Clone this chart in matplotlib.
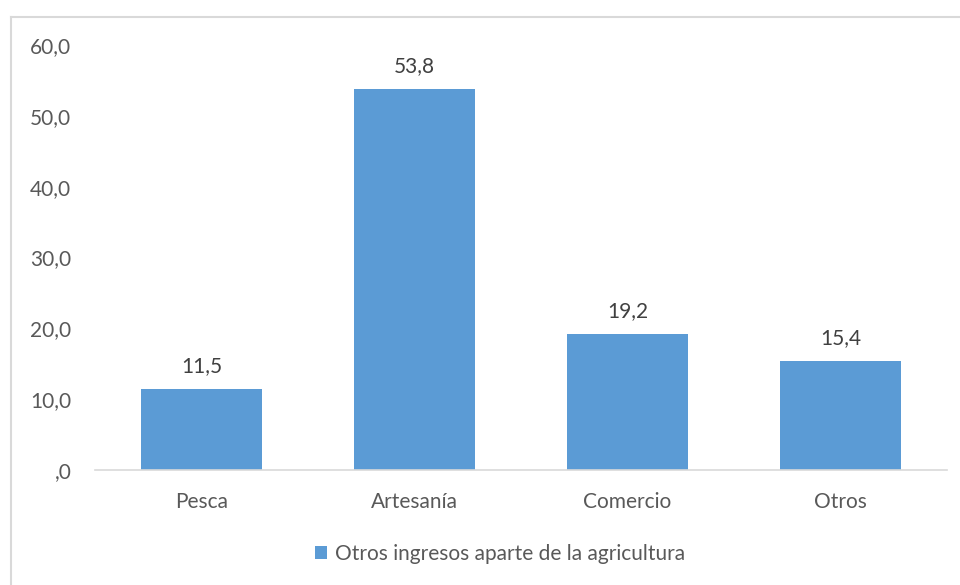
import matplotlib
matplotlib.use("Agg")
import matplotlib.pyplot as plt
from matplotlib.patches import Patch
from matplotlib.lines import Line2D

categories = ["Pesca", "Artesanía", "Comercio", "Otros"]
values = [11.5, 53.8, 19.2, 15.4]
yticks = [0, 10, 20, 30, 40, 50, 60]
ytick_labels = [",0", "10,0", "20,0", "30,0", "40,0", "50,0", "60,0"]
value_labels = ["11,5", "53,8", "19,2", "15,4"]
series_name = "Otros ingresos aparte de la agricultura"

plt.rcParams['font.family'] = ['Lato', 'DejaVu Sans']
text_color = "#595959"
bar_color = "#5B9BD5"
fs = 15

fig = plt.figure(figsize=(9.6, 5.85), dpi=100)
ax = fig.add_axes([95/960, 1-470/585, (947-95)/960, (470-45)/585])

x = range(len(categories))
bars = ax.bar(x, values, width=0.57, color=bar_color, zorder=2)
for b, lab in zip(bars, value_labels):
    ax.annotate(lab, (b.get_x()+b.get_width()/2, b.get_height()),
                xytext=(0, 9), textcoords="offset points",
                ha="center", va="bottom", fontsize=fs, color="#404040")

ax.set_xlim(-0.5, 3.5)
ax.set_ylim(0, 60)
ax.set_yticks(yticks)
ax.set_yticklabels(ytick_labels)
ax.set_xticks(list(x))
ax.set_xticklabels(categories)
ax.tick_params(axis='y', length=0, pad=17, labelsize=fs, labelcolor=text_color)
ax.tick_params(axis='x', length=0, pad=16, labelsize=fs, labelcolor=text_color)
for s in ["top", "right", "left"]:
    ax.spines[s].set_visible(False)
ax.spines["bottom"].set_color("#D9D9D9")
ax.spines["bottom"].set_linewidth(1.2)

handle = Patch(facecolor=bar_color, edgecolor='none')
leg = fig.legend([handle], [series_name], loc="center", bbox_to_anchor=(500/960, 1-554/585),
                 frameon=False, fontsize=fs, handlelength=0.55, handleheight=0.55,
                 handletextpad=0.4)
for t in leg.get_texts():
    t.set_color(text_color)

# outer chart border (top and left visible)
fig.add_artist(Line2D([11/960, 1], [1-17/585, 1-17/585], color="#D9D9D9", lw=1.5, transform=fig.transFigure))
fig.add_artist(Line2D([11/960, 11/960], [0, 1-17/585], color="#D9D9D9", lw=1.5, transform=fig.transFigure))

fig.savefig("out.png", dpi=100)
